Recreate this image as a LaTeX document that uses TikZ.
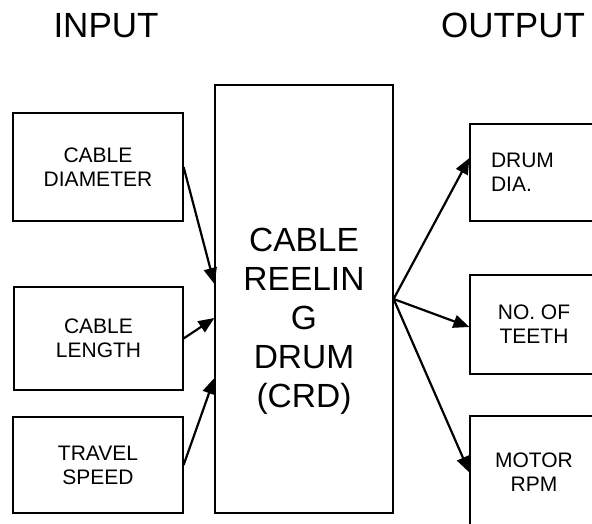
\documentclass[tikz,border=0pt]{standalone}
\usepackage{fontspec}
\setmainfont{Liberation Sans}
\usetikzlibrary{arrows.meta}
\tikzset{
  box/.style={draw=black, line width=1.2pt, rectangle, inner sep=0pt, align=center,
    font=\fontsize{21}{24.2}\selectfont},
  title/.style={inner sep=0pt, font=\fontsize{35}{40}\selectfont},
  big/.style={inner sep=0pt, align=center, font=\fontsize{33.5}{38.9}\selectfont},
  link/.style={line width=2.2pt, -{Triangle[length=16pt,width=13pt]}, shorten >=0pt}
}
\begin{document}
\begin{tikzpicture}[x=1pt,y=-1pt]
\useasboundingbox (0,0) rectangle (592,524);
\clip (0,0) rectangle (592,524);
\node[title] (tin) at (106,25.5) {INPUT};
\node[title] (tout) at (513,25.5) {OUTPUT};
% input boxes
\node[box, minimum width=170pt, minimum height=108pt] (cd) at (98,167) {CABLE\\DIAMETER};
\node[box, minimum width=169pt, minimum height=103pt] (cl) at (98.5,338.5) {CABLE\\LENGTH};
\node[box, minimum width=170pt, minimum height=96pt] (ts) at (98,465) {TRAVEL\\SPEED};
% central
\node[box, minimum width=178pt, minimum height=428pt] (crd) at (304,299) {};
\node[big] (crdtext) at (304,321) {CABLE\\REELIN\\G\\DRUM\\(CRD)};
% output boxes
\node[box, minimum width=128pt, minimum height=97pt, text width=86pt, inner xsep=21pt, align=left] (dd) at (534,172.5) {DRUM\\DIA.};
\node[box, minimum width=128pt, minimum height=99pt] (nt) at (534,324.5) {NO. OF\\TEETH};
\node[box, minimum width=128pt, minimum height=113pt] (mr) at (534,472.5) {MOTOR\\RPM};
% connectors
\draw[link] (cd.east) -- ([yshift=15pt]crd.west);
\draw[link] (cl.east) -- ([yshift=-19pt]crd.west);
\draw[link] (ts.east) -- ([yshift=-79pt]crd.west);
\coordinate (hub) at (crd.east);
\draw[link] (hub) -- ([yshift=14.5pt]dd.west);
\draw[link] (hub) -- ([yshift=-2.5pt]nt.west);
\draw[link] (hub) -- (mr.west);
\end{tikzpicture}
\end{document}
